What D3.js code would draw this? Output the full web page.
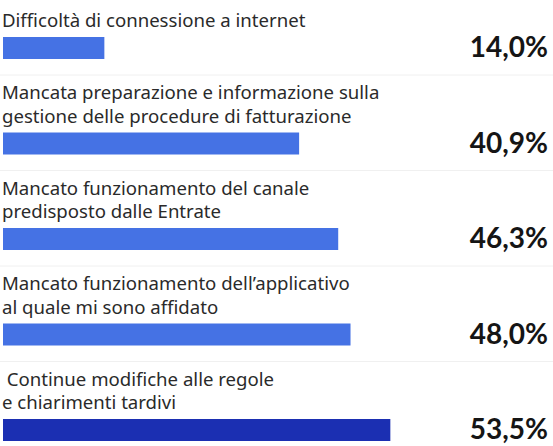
<!DOCTYPE html>
<html>
<head>
<meta charset="utf-8">
<script src="https://cdn.jsdelivr.net/npm/d3@7"></script>
<style>
  html, body { margin: 0; padding: 0; background: #fff; }
  svg { display: block; }
  .label { font-family: 'Noto Sans', sans-serif; font-size: 18.6px; fill: #2a2a2a; }
  .value { font-family: 'Lato', sans-serif; font-weight: 700; font-size: 28px; fill: #151515; }
</style>
</head>
<body>
<svg class="bar-chart" width="553" height="446"></svg>
<script>
// categories (label lines) and values in %
const categories = [
  ['Difficoltà di connessione a internet'],
  ['Mancata preparazione e informazione sulla', 'gestione delle procedure di fatturazione'],
  ['Mancato funzionamento del canale', 'predisposto dalle Entrate'],
  ['Mancato funzionamento dell\u2019applicativo', 'al quale mi sono affidato'],
  [' Continue modifiche alle regole', 'e chiarimenti tardivi']
];
const values = [14.0, 40.9, 46.3, 48.0, 53.5];
const valueLabels = ['14,0%', '40,9%', '46,3%', '48,0%', '53,5%'];

const width = 553;
const barHeight = 22;
const lineHeight = 23.5;

const data = values.map((v, i) => ({ id: i, lines: categories[i], value: v, text: valueLabels[i] }));

const svg = d3.select('.bar-chart');
const chart = svg.append('g');

const xScale = d3.scaleLinear().domain([0, 55]).range([3, 3 + 55 * 7.24]);
const yScale = d3.scalePoint().domain(data.map(d => d.id)).range([37, 419]);

const color = d => d.id === data.length - 1 ? '#1b2fb2' : '#4572e4';

// faint separators between groups
chart.selectAll('.sep')
  .data(data.slice(0, -1))
  .enter()
  .append('line')
  .attr('class', 'sep')
  .attr('x1', 0)
  .attr('x2', width)
  .attr('y1', d => yScale(d.id) + barHeight + 16)
  .attr('y2', d => yScale(d.id) + barHeight + 16)
  .attr('stroke', '#f0f0f0')
  .attr('stroke-width', 1);

// bars
chart.selectAll('.bar')
  .data(data)
  .enter()
  .append('rect')
  .attr('class', 'bar')
  .attr('fill', color)
  .attr('x', xScale(0))
  .attr('y', d => yScale(d.id))
  .attr('width', d => xScale(d.value) - xScale(0))
  .attr('height', barHeight);

// category labels, last line sits just above the bar
const labels = chart.selectAll('.label')
  .data(data)
  .enter()
  .append('text')
  .attr('class', 'label')
  .attr('x', 2);

labels.selectAll('tspan')
  .data(d => d.lines.map((t, j) => ({ t, j, n: d.lines.length, id: d.id })))
  .enter()
  .append('tspan')
  .attr('x', 2)
  .attr('y', l => yScale(l.id) - 10 - (l.n - 1 - l.j) * lineHeight)
  .attr('xml:space', 'preserve')
  .text(l => l.t);

// values on the right
chart.selectAll('.value')
  .data(data)
  .enter()
  .append('text')
  .attr('class', 'value')
  .attr('x', 548)
  .attr('y', d => yScale(d.id) + barHeight / 2 + 9)
  .attr('text-anchor', 'end')
  .text(d => d.text);
</script>
</body>
</html>
